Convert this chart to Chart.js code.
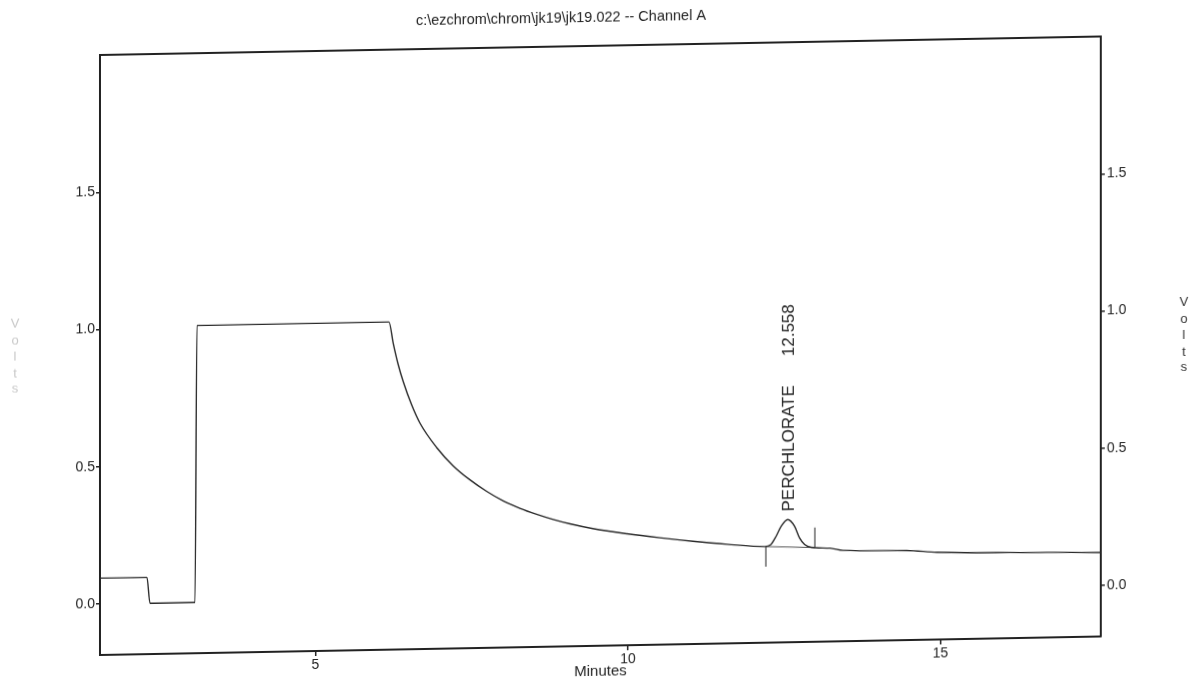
<!DOCTYPE html>
<html>
<head>
<meta charset="utf-8">
<title>jk19.022 Channel A</title>
<script src="https://cdn.jsdelivr.net/npm/chart.js@4.4.1/dist/chart.umd.min.js"></script>
<style>
  html, body { margin: 0; padding: 0; background: #fff; overflow: hidden; }
  /* the printed trace sits on a slightly sheared page */
  #sheet { position: relative; width: 1190px; height: 700px; transform: skewY(-1.06deg); transform-origin: 100px 0; }
</style>
</head>
<body>
<div id="sheet"><canvas id="chart" width="1190" height="700"></canvas></div>
<script>
// Chromatogram: detector signal (Volts) against retention time (Minutes)
const chartTitle = 'c:\\ezchrom\\chrom\\jk19\\jk19.022 -- Channel A';

const traceMinutes = [
  1.552, 2.304, 2.352, 3.072, 3.104, 6.176, 6.245, 6.325, 6.405, 6.539,
  6.672, 6.939, 7.205, 7.472, 7.739, 8.005, 8.272, 8.539, 8.805, 9.072,
  9.44, 9.984, 10.512, 11.04, 11.584, 12.192, 12.288, 12.373, 12.453, 12.558,
  12.667, 12.747, 12.827, 12.933, 13.232, 13.44, 14.464, 14.944, 16.704, 17.568
];
const traceVolts = [
  0.095, 0.094, 0.0, 0.0, 1.008, 1.008, 0.930, 0.852, 0.790, 0.705,
  0.638, 0.548, 0.480, 0.428, 0.385, 0.349, 0.321, 0.298, 0.278, 0.261,
  0.242, 0.221, 0.204, 0.189, 0.176, 0.165, 0.172, 0.202, 0.238, 0.262,
  0.237, 0.194, 0.170, 0.159, 0.155, 0.146, 0.141, 0.133, 0.125, 0.121
];

const minuteTicks = [5, 10, 15];
const voltTicks = [0.0, 0.5, 1.0, 1.5];
const minuteRange = [1.552, 17.568];
const voltRange = [-0.185, 2.0];

// integrated peak
const peakName = 'PERCHLORATE';
const peakRetention = 12.558;
const peakApexVolts = 0.262;
const peakStartMinutes = 12.208;
const peakEndMinutes = 12.992;
const peakStartMarkVolts = [0.165, 0.092];
const peakEndMarkVolts = [0.158, 0.231];

const FONT = '"Liberation Sans", Arial, Helvetica, sans-serif';
const INK = '#222';

const trace = traceMinutes.map((m, i) => ({ x: m, y: traceVolts[i] }));
const startMark = peakStartMarkVolts.map(v => ({ x: peakStartMinutes, y: v }));
const endMark = peakEndMarkVolts.map(v => ({ x: peakEndMinutes, y: v }));
const peakBase = [
  { x: peakStartMinutes, y: peakStartMarkVolts[0] },
  { x: peakEndMinutes, y: peakEndMarkVolts[0] }
];

const annotate = {
  id: 'annotate',
  afterDraw(chart) {
    const { ctx, scales: { x, y } } = chart;
    ctx.save();
    ctx.fillStyle = INK;
    // page heading
    ctx.font = '14.5px ' + FONT;
    ctx.textAlign = 'center';
    ctx.textBaseline = 'middle';
    ctx.fillText(chartTitle, 561, 26.5);

    // stacked "Volts" captions on both sides
    const letters = 'Volts'.split('');
    const rows = [322, 339, 355, 372, 387];
    ctx.font = '13px ' + FONT;
    ctx.fillStyle = '#c9c9c9';
    letters.forEach((c, i) => ctx.fillText(c, 15, rows[i]));
    ctx.fillStyle = '#333';
    letters.forEach((c, i) => ctx.fillText(c, 1184, rows[i]));

    // peak name and retention time, written upward above the apex
    const px = x.getPixelForValue(peakRetention) + 1;
    const py = y.getPixelForValue(peakApexVolts) - 8;
    ctx.translate(px, py);
    ctx.rotate(-Math.PI / 2);
    ctx.fillStyle = INK;
    ctx.font = '17px ' + FONT;
    ctx.textAlign = 'left';
    ctx.textBaseline = 'middle';
    ctx.fillText(peakName, 0, 0);
    const w = ctx.measureText(peakName).width;
    ctx.fillText(peakRetention.toFixed(3), w + 29, 0);
    ctx.restore();
  }
};

const fixedTicks = list => scale => { scale.ticks = list.map(v => ({ value: v })); };

new Chart(document.getElementById('chart'), {
  type: 'line',
  data: {
    datasets: [
      { data: trace, borderColor: '#2b2b2b', borderWidth: 1.4, pointRadius: 0,
        cubicInterpolationMode: 'monotone', xAxisID: 'x', yAxisID: 'y' },
      { data: peakBase, borderColor: '#555', borderWidth: 1, pointRadius: 0, xAxisID: 'x', yAxisID: 'y' },
      { data: startMark, borderColor: '#444', borderWidth: 1.2, pointRadius: 0, xAxisID: 'x', yAxisID: 'y' },
      { data: endMark, borderColor: '#444', borderWidth: 1.2, pointRadius: 0, xAxisID: 'x', yAxisID: 'y' }
    ]
  },
  options: {
    responsive: false,
    animation: false,
    devicePixelRatio: 1,
    layout: { padding: 0 },
    plugins: { legend: { display: false }, tooltip: { enabled: false }, title: { display: false } },
    scales: {
      x: {
        type: 'linear', position: 'bottom', min: minuteRange[0], max: minuteRange[1],
        afterBuildTicks: fixedTicks(minuteTicks),
        afterFit: s => { s.height = 45; },
        grid: { drawOnChartArea: false, drawTicks: true, tickLength: 5, color: INK, lineWidth: 1.5 },
        border: { display: true, color: INK, width: 2 },
        ticks: { font: { family: FONT, size: 14 }, color: INK, padding: 1, maxRotation: 0, autoSkip: false },
        title: { display: true, text: 'Minutes', font: { family: FONT, size: 15 }, color: INK, padding: { top: 0, bottom: 10 } }
      },
      xTop: {
        type: 'linear', position: 'top', min: minuteRange[0], max: minuteRange[1],
        afterFit: s => { s.height = 55; },
        grid: { drawOnChartArea: false, drawTicks: false },
        border: { display: true, color: INK, width: 2 },
        ticks: { display: false }
      },
      y: {
        type: 'linear', position: 'left', min: voltRange[0], max: voltRange[1],
        afterBuildTicks: fixedTicks(voltTicks),
        afterFit: s => { s.width = 100; },
        grid: { drawOnChartArea: false, drawTicks: true, tickLength: 4, color: INK, lineWidth: 1.5 },
        border: { display: true, color: INK, width: 2 },
        ticks: { callback: v => Number(v).toFixed(1), font: { family: FONT, size: 14 }, color: INK, padding: 1 }
      },
      y2: {
        type: 'linear', position: 'right', min: voltRange[0], max: voltRange[1],
        afterBuildTicks: fixedTicks(voltTicks),
        afterFit: s => { s.width = 89; },
        grid: { drawOnChartArea: false, drawTicks: true, tickLength: 4, color: INK, lineWidth: 1.5 },
        border: { display: true, color: INK, width: 2 },
        ticks: { callback: v => Number(v).toFixed(1), font: { family: FONT, size: 14 }, color: INK, padding: 2 }
      }
    }
  },
  plugins: [annotate]
});
</script>
</body>
</html>
